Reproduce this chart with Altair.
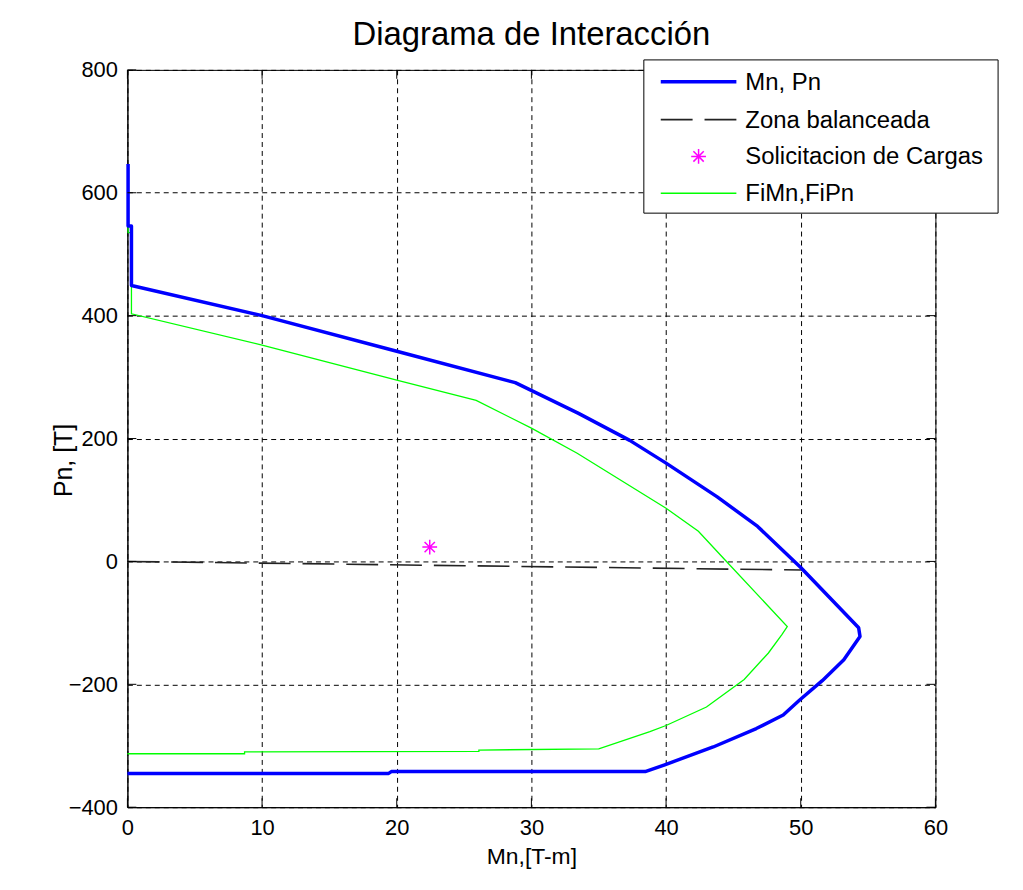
import altair as alt
import pandas as pd

# ---- data ----
blue_m = [0.05, 0.05, 0.3, 0.3, 10.0, 20.0, 28.8, 33.5, 37.3, 40.0, 43.8, 46.8, 50.0,
          54.3, 54.4, 53.2, 51.6, 49.9, 48.7, 46.7, 43.5, 39.9, 38.45, 19.6, 19.4, 0.0]
blue_p = [647, 546, 546, 449, 400, 342, 291, 241, 197, 160, 105, 57, -10,
          -108, -122, -160, -194, -226, -250, -272, -302, -331, -342, -342, -345, -345]

green_m = [0.05, 0.05, 0.3, 0.3, 10.0, 20.0, 25.9, 30.0, 33.4, 40.0, 42.4, 44.4, 49.0,
           48.6, 47.6, 45.8, 43.0, 40.0, 38.8, 35.0, 26.1, 26.1, 8.7, 8.7, 0.0]
green_p = [582, 535, 535, 403, 352, 295, 262, 217, 176, 86.5, 49, 2, -106,
           -119, -149, -192, -237, -267, -277, -305, -307, -309, -310, -313, -313]

bal_m = [0.0, 50.1]
bal_p = [0.0, -14.0]

load_m = [22.45]
load_p = [23.3]

x_ticks = [0, 10, 20, 30, 40, 50, 60]
y_ticks = [-400, -200, 0, 200, 400, 600, 800]

legend_labels = ["Mn, Pn", "Zona balanceada", "Solicitacion de Cargas", "FiMn,FiPn"]

FONT = "Liberation Sans"
W, H = 812, 741


def frame(ms, ps):
    return pd.DataFrame({"m": ms, "p": ps, "o": list(range(len(ms)))})


xs = alt.Scale(domain=[0, 60], nice=False, zero=False)
ys = alt.Scale(domain=[-400, 800], nice=False, zero=False)

X = alt.X("m:Q", scale=xs, axis=alt.Axis(values=x_ticks, title="Mn,[T-m]"))
Y = alt.Y("p:Q", scale=ys, axis=alt.Axis(values=y_ticks, title="Pn, [T]",
                                         titleX=-51, titleY=392))

blue = alt.Chart(frame(blue_m, blue_p)).mark_line(
    color="#0000FF", strokeWidth=3.5, strokeJoin="round"
).encode(x=X, y=Y, order="o:Q")

green = alt.Chart(frame(green_m, green_p)).mark_line(
    color="#00FF00", strokeWidth=1.3
).encode(x=X, y=Y, order="o:Q")

bal = alt.Chart(frame(bal_m, bal_p)).mark_line(
    color="#222222", strokeWidth=1.6, strokeDash=[32, 12]
).encode(x=X, y=Y, order="o:Q")

STAR = "M-1,0L1,0M0,-1L0,1M-0.7,-0.7L0.7,0.7M-0.7,0.7L0.7,-0.7"

load = alt.Chart(frame(load_m, load_p)).mark_point(
    shape=STAR, size=220, filled=False, color="#FF00FF", strokeWidth=1.5, opacity=1
).encode(x=X, y=Y)

# inward tick marks on all four sides
xt = pd.DataFrame({"m": x_ticks})
yt = pd.DataFrame({"p": y_ticks})
TL = 9
ticks = [
    alt.Chart(xt).mark_rule(color="black", strokeWidth=1).encode(
        x=X, y=alt.value(H), y2=alt.value(H - TL)),
    alt.Chart(xt).mark_rule(color="black", strokeWidth=1).encode(
        x=X, y=alt.value(0), y2=alt.value(TL)),
    alt.Chart(yt).mark_rule(color="black", strokeWidth=1).encode(
        y=Y, x=alt.value(0), x2=alt.value(TL)),
    alt.Chart(yt).mark_rule(color="black", strokeWidth=1).encode(
        y=Y, x=alt.value(W), x2=alt.value(W - TL)),
]

# ---- legend (drawn by hand, positions in pixels of the plot area) ----
one = alt.Data(values=[{"a": 1}])
LX0, LX1, LY0, LY1 = 519, 875, -10, 144
rows = [12, 50, 87, 124]
SX0, SX1, TX = 536, 612, 621

leg = [alt.Chart(one).mark_rect(fill="white", stroke="black", strokeWidth=1).encode(
    x=alt.value(LX0), x2=alt.value(LX1), y=alt.value(LY0), y2=alt.value(LY1))]
leg.append(alt.Chart(one).mark_rule(color="#0000FF", strokeWidth=3.5).encode(
    x=alt.value(SX0), x2=alt.value(SX1), y=alt.value(rows[0])))
leg.append(alt.Chart(one).mark_rule(color="#222222", strokeWidth=1.6, strokeDash=[32, 12]).encode(
    x=alt.value(SX0), x2=alt.value(SX1), y=alt.value(rows[1])))
leg.append(alt.Chart(one).mark_point(shape=STAR, size=220, filled=False, color="#FF00FF",
                                     strokeWidth=1.5, opacity=1).encode(
    x=alt.value((SX0 + SX1) / 2), y=alt.value(rows[2])))
leg.append(alt.Chart(one).mark_rule(color="#00FF00", strokeWidth=1.3).encode(
    x=alt.value(SX0), x2=alt.value(SX1), y=alt.value(rows[3])))
for lab, ry in zip(legend_labels, rows):
    leg.append(alt.Chart(one).mark_text(
        align="left", baseline="middle", font=FONT, fontSize=24, color="black"
    ).encode(x=alt.value(TX), y=alt.value(ry + 1), text=alt.value(lab)))

chart = alt.layer(bal, green, blue, load, *ticks, *leg).properties(
    width=W, height=H,
    background="white",
    autosize=alt.AutoSizeParams(type="none"),
    padding={"left": 120, "top": 60, "right": 80, "bottom": 74},
    title=alt.TitleParams("Diagrama de Interacción", font=FONT, fontSize=33,
                          fontWeight="normal", color="black", offset=7, anchor="middle"),
).configure_view(
    stroke="black", strokeWidth=1
).configure_axis(
    grid=True, gridColor="black", gridOpacity=1, gridDash=[5, 4], gridWidth=1,
    ticks=False, domain=True, domainColor="black", domainWidth=1,
    labelFont=FONT, labelFontSize=22, labelColor="black", labelFlush=False,
    titleFont=FONT, titleFontWeight="normal", titleColor="black",
).configure_axisX(
    labelPadding=10, titleFontSize=23, titlePadding=8,
).configure_axisY(
    labelPadding=10, titleFontSize=25,
)

chart.save("out.html", embed_options={"renderer": "svg", "actions": False})
